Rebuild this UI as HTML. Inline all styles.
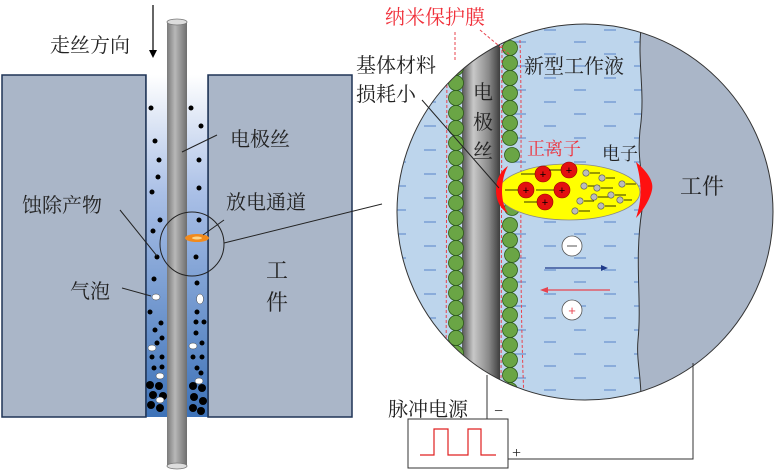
<!DOCTYPE html>
<html><head><meta charset="utf-8"><style>
html,body{margin:0;padding:0;background:#fff;}
svg{display:block;font-family:"Liberation Serif","Noto Serif CJK SC",serif;}
</style></head><body>
<svg width="776" height="472" viewBox="0 0 776 472" xmlns="http://www.w3.org/2000/svg">
<defs>
<linearGradient id="gap" x1="0" y1="0" x2="0" y2="1">
<stop offset="0" stop-color="#ffffff"/><stop offset="0.35" stop-color="#a9bfe6"/><stop offset="1" stop-color="#3d72b8"/>
</linearGradient>
<linearGradient id="wire" x1="0" y1="0" x2="1" y2="0">
<stop offset="0" stop-color="#7a7a7a"/><stop offset="0.4" stop-color="#b8b8b8"/><stop offset="1" stop-color="#6e6e6e"/>
</linearGradient>
<linearGradient id="wire2" x1="0" y1="0" x2="1" y2="0">
<stop offset="0" stop-color="#555"/><stop offset="0.3" stop-color="#c8c8c8"/><stop offset="0.7" stop-color="#8a8a8a"/><stop offset="1" stop-color="#3e3e3e"/>
</linearGradient>
<pattern id="dash" width="60" height="24" patternUnits="userSpaceOnUse">
<line x1="4" y1="6" x2="16" y2="6" stroke="#6d95cf" stroke-width="1.3"/>
<line x1="34" y1="18" x2="46" y2="18" stroke="#6d95cf" stroke-width="1.3"/>
</pattern>
<clipPath id="cc"><circle cx="585" cy="212" r="188"/></clipPath>
</defs>

<rect x="2" y="75" width="144" height="342" fill="#aab6c8" stroke="#1f3456" stroke-width="1.5"/>
<rect x="208" y="75" width="144" height="342" fill="#aab6c8" stroke="#1f3456" stroke-width="1.5"/>
<rect x="146" y="75" width="62" height="342" fill="url(#gap)"/>
<line x1="146" y1="75" x2="146" y2="417" stroke="#1f3456" stroke-width="1.5"/>
<line x1="208" y1="75" x2="208" y2="417" stroke="#1f3456" stroke-width="1.5"/>
<g fill="#000">
<circle cx="151" cy="108" r="2.5"/><circle cx="191" cy="108" r="2.5"/><circle cx="201" cy="126" r="2.5"/>
<circle cx="155" cy="141" r="2.5"/><circle cx="159" cy="160" r="2.5"/><circle cx="199" cy="160" r="2.5"/>
<circle cx="158" cy="177" r="2.5"/><circle cx="152" cy="192" r="2.5"/><circle cx="199" cy="188" r="2.5"/>
<circle cx="160" cy="220" r="2.5"/><circle cx="199" cy="220" r="2.5"/><circle cx="153" cy="231" r="2.5"/>
<circle cx="157" cy="257" r="2.5"/><circle cx="196" cy="257" r="2.5"/><circle cx="154" cy="279" r="2.5"/>
<circle cx="197" cy="283" r="2.5"/><circle cx="150" cy="312" r="2.5"/><circle cx="197" cy="312" r="2.5"/>
<circle cx="161" cy="323" r="2.5"/><circle cx="155" cy="330" r="2.5"/><circle cx="196" cy="322" r="2.5"/><circle cx="204" cy="322" r="2.5"/>
<circle cx="162" cy="338" r="2.5"/><circle cx="157" cy="343" r="2.5"/><circle cx="196" cy="333" r="2.5"/><circle cx="202" cy="343" r="2.5"/>
<circle cx="152" cy="357" r="2.5"/><circle cx="162" cy="357" r="2.5"/><circle cx="193" cy="357" r="2.5"/><circle cx="202" cy="357" r="2.5"/>
<circle cx="154" cy="368" r="2.5"/><circle cx="162" cy="367" r="2.5"/><circle cx="197" cy="368" r="2.5"/><circle cx="201" cy="373" r="2.5"/>
<circle cx="150" cy="385" r="4"/><circle cx="159" cy="386" r="4"/><circle cx="153" cy="395" r="4"/><circle cx="163" cy="396" r="4"/>
<circle cx="151" cy="405" r="4"/><circle cx="160" cy="408" r="4"/><circle cx="193" cy="386" r="4"/><circle cx="202" cy="388" r="4"/>
<circle cx="194" cy="397" r="4"/><circle cx="203" cy="401" r="4"/><circle cx="193" cy="408" r="4"/><circle cx="201" cy="411" r="4"/>
</g>
<g fill="#fff" stroke="#444" stroke-width="0.5">
<ellipse cx="156" cy="297" rx="4" ry="3"/><ellipse cx="200" cy="299" rx="3.5" ry="5"/>
<ellipse cx="152" cy="348" rx="4" ry="3"/><ellipse cx="193" cy="346" rx="4" ry="3"/>
<ellipse cx="160" cy="376" rx="4" ry="3"/><ellipse cx="199" cy="381" rx="4" ry="3"/><ellipse cx="160" cy="400" rx="4" ry="3"/>
</g>
<rect x="167" y="22" width="20" height="444" fill="url(#wire)"/>
<ellipse cx="177" cy="22" rx="10" ry="3" fill="#ddd" stroke="#777" stroke-width="0.8"/>
<ellipse cx="177" cy="466" rx="10" ry="3" fill="#ddd" stroke="#777" stroke-width="0.8"/>
<ellipse cx="197" cy="238" rx="12" ry="4" fill="#f28a1c"/><ellipse cx="197" cy="238" rx="5" ry="1.5" fill="#fbd48a"/>
<circle cx="192" cy="244" r="32" fill="none" stroke="#222" stroke-width="1"/>
<line x1="153" y1="5" x2="153" y2="52" stroke="#000" stroke-width="1.2"/>
<polygon points="149,50 157,50 153,58" fill="#000"/>
<g stroke="#222" stroke-width="1" fill="none">
<line x1="217" y1="135" x2="182" y2="152"/>
<line x1="224" y1="220" x2="203" y2="235"/>
<line x1="224" y1="243" x2="382" y2="204"/>
<line x1="120" y1="210" x2="157" y2="256"/>
<line x1="122" y1="288" x2="151" y2="296"/>
</g>
<g font-size="20" fill="#222">
<text x="50" y="52">走丝方向</text>
<text x="230" y="146">电极丝</text>
<text x="226" y="209">放电通道</text>
<text x="22" y="212">蚀除产物</text>
<text x="70" y="298">气泡</text>
<text x="266" y="278" font-size="22">工</text>
<text x="266" y="310" font-size="22">件</text>
</g>

<g clip-path="url(#cc)">
<rect x="396" y="23" width="380" height="380" fill="#bdd5ec"/>
<rect x="396" y="23" width="250" height="380" fill="url(#dash)"/>
<path d="M642,20 C636,60 646,90 640,130 C636,170 648,185 642,210 C634,260 642,300 638,340 C636,360 642,380 641,405 L780,405 L780,20 Z" fill="#aab6c8" stroke="#333" stroke-width="1"/>
<rect x="462" y="20" width="38" height="385" fill="url(#wire2)"/>
<g fill="#6aa545" stroke="#2d5a1a" stroke-width="0.8">
<circle cx="456" cy="68" r="7.5"/><circle cx="456" cy="83" r="7.5"/><circle cx="456" cy="98" r="7.5"/><circle cx="456" cy="113" r="7.5"/><circle cx="456" cy="128" r="7.5"/><circle cx="456" cy="143" r="7.5"/><circle cx="456" cy="158" r="7.5"/><circle cx="456" cy="173" r="7.5"/><circle cx="456" cy="188" r="7.5"/><circle cx="456" cy="203" r="7.5"/><circle cx="456" cy="218" r="7.5"/><circle cx="456" cy="233" r="7.5"/><circle cx="456" cy="248" r="7.5"/><circle cx="456" cy="263" r="7.5"/><circle cx="456" cy="278" r="7.5"/><circle cx="456" cy="293" r="7.5"/><circle cx="456" cy="308" r="7.5"/><circle cx="456" cy="323" r="7.5"/><circle cx="456" cy="338" r="7.5"/><circle cx="456" cy="353" r="7.5"/><circle cx="456" cy="368" r="7.5"/>
<circle cx="510" cy="48" r="7.5"/><circle cx="510" cy="63" r="7.5"/><circle cx="510" cy="78" r="7.5"/><circle cx="510" cy="93" r="7.5"/><circle cx="510" cy="108" r="7.5"/><circle cx="510" cy="123" r="7.5"/><circle cx="510" cy="138" r="7.5"/><circle cx="512" cy="155" r="7.5"/><circle cx="512" cy="208" r="7.5"/><circle cx="510" cy="225" r="7.5"/><circle cx="510" cy="240" r="7.5"/><circle cx="512" cy="255" r="7.5"/><circle cx="510" cy="270" r="7.5"/><circle cx="510" cy="285" r="7.5"/><circle cx="510" cy="300" r="7.5"/><circle cx="510" cy="315" r="7.5"/><circle cx="510" cy="330" r="7.5"/><circle cx="510" cy="345" r="7.5"/><circle cx="510" cy="360" r="7.5"/><circle cx="510" cy="375" r="7.5"/><circle cx="510" cy="390" r="7.5"/>
</g>
<g stroke="#e8434e" stroke-width="1" stroke-dasharray="3,2" fill="none">
<path d="M447,40 L446,400"/><path d="M455,33 L454,60"/>
<path d="M502,40 L501,400"/><path d="M520,40 C523,150 518,250 524,400"/>
</g>
</g>
<circle cx="585" cy="212" r="188" fill="none" stroke="#333" stroke-width="1"/>
<line x1="480" y1="30" x2="510" y2="55" stroke="#e8434e" stroke-width="1" stroke-dasharray="3,2"/>
<line x1="455" y1="32" x2="455" y2="62" stroke="#e8434e" stroke-width="1" stroke-dasharray="3,2"/>

<ellipse cx="569" cy="192" rx="71" ry="28" fill="#ffff00" stroke="#888" stroke-width="0.8"/>
<path d="M508,166 C492,176 492,205 508,213 C500,203 500,180 508,166 Z" fill="#ff1010"/>
<path d="M636,162 C648,172 654,182 652,190 C650,200 642,212 636,218 C642,200 642,182 636,162 Z" fill="#ff1010"/>
<g fill="#e31010" stroke="#900" stroke-width="0.6">
<circle cx="543" cy="174" r="8"/><circle cx="569" cy="170" r="8"/><circle cx="526" cy="190" r="8"/><circle cx="562" cy="190" r="8"/><circle cx="545" cy="202" r="8"/>
</g>
<g font-size="11" fill="#000" text-anchor="middle" font-family="Liberation Sans, sans-serif">
<text x="543" y="178">+</text><text x="569" y="174">+</text><text x="526" y="194">+</text><text x="562" y="194">+</text><text x="545" y="206">+</text>
</g>
<g stroke="#000" stroke-width="0.8">
<line x1="535" y1="174" x2="521" y2="174"/><line x1="561" y1="170" x2="549" y2="170"/><line x1="518" y1="190" x2="505" y2="190"/><line x1="554" y1="190" x2="536" y2="190"/><line x1="537" y1="202" x2="524" y2="202"/>
<line x1="590" y1="173" x2="600" y2="173"/><line x1="606" y1="178" x2="615" y2="178"/><line x1="588" y1="186" x2="600" y2="186"/><line x1="601" y1="188" x2="613" y2="188"/><line x1="626" y1="184" x2="636" y2="184"/><line x1="598" y1="197" x2="609" y2="197"/><line x1="615" y1="195" x2="626" y2="195"/><line x1="624" y1="200" x2="632" y2="200"/><line x1="584" y1="201" x2="594" y2="201"/><line x1="579" y1="211" x2="590" y2="211"/><line x1="605" y1="206" x2="616" y2="206"/>
</g>
<g fill="#bbb" stroke="#555" stroke-width="0.6">
<circle cx="586" cy="173" r="3.2"/><circle cx="602" cy="178" r="3.2"/><circle cx="584" cy="186" r="3.2"/><circle cx="597" cy="188" r="3.2"/><circle cx="622" cy="184" r="3.2"/><circle cx="594" cy="197" r="3.2"/><circle cx="611" cy="195" r="3.2"/><circle cx="620" cy="200" r="3.2"/><circle cx="580" cy="201" r="3.2"/><circle cx="575" cy="211" r="3.2"/><circle cx="601" cy="206" r="3.2"/>
</g>
<circle cx="572" cy="246" r="10" fill="#fff" stroke="#555" stroke-width="0.8"/>
<line x1="567" y1="246" x2="577" y2="246" stroke="#555" stroke-width="1"/>
<circle cx="572" cy="310" r="10" fill="#fff" stroke="#555" stroke-width="0.8"/>
<text x="572" y="315" font-size="13" fill="#e8434e" text-anchor="middle" font-family="Liberation Sans, sans-serif">+</text>
<line x1="545" y1="268" x2="603" y2="268" stroke="#1f3a8a" stroke-width="1.3"/>
<polygon points="601,265 608,268 601,271" fill="#1f3a8a"/>
<line x1="547" y1="290" x2="610" y2="290" stroke="#e8434e" stroke-width="1.3"/>
<polygon points="548,287 540,290 548,293" fill="#e8434e"/>
<line x1="422" y1="100" x2="499" y2="188" stroke="#222" stroke-width="1"/>

<g font-size="20" fill="#222">
<text x="385" y="24" fill="#f0303a">纳米保护膜</text>
<text x="356" y="72">基体材料</text>
<text x="356" y="101">损耗小</text>
<text x="473" y="99">电</text><text x="473" y="129">极</text><text x="473" y="158">丝</text>
<text x="524" y="73">新型工作液</text>
<text x="527" y="155" fill="#f0303a" font-size="18">正离子</text>
<text x="602" y="160" font-size="18">电子</text>
<text x="680" y="194" font-size="22">工件</text>
<text x="388" y="416">脉冲电源</text>
</g>
<text x="494" y="416" font-size="16" fill="#222">−</text>
<text x="512" y="458" font-size="16" fill="#222">+</text>

<rect x="408" y="419" width="100" height="49" fill="#fff" stroke="#333" stroke-width="1"/>
<polyline points="420,455 434,455 434,429 448,429 448,455 468,455 468,429 481,429 481,455 496,455" fill="none" stroke="#e02020" stroke-width="1.2"/>
<line x1="487" y1="375" x2="487" y2="419" stroke="#333" stroke-width="1"/>
<polyline points="508,459 693,459 693,363" fill="none" stroke="#333" stroke-width="1"/>
</svg>
</body></html>
